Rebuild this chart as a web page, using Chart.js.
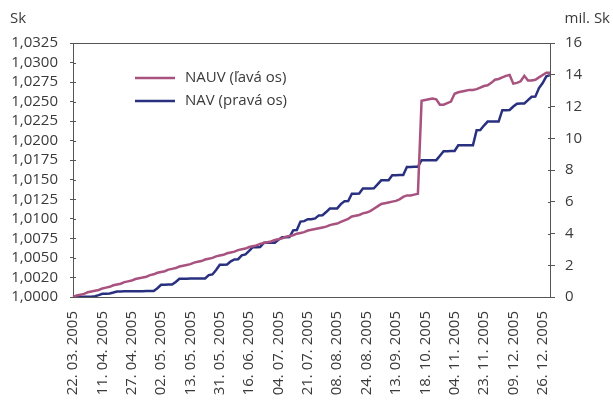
<!DOCTYPE html>
<html lang="sk">
<head>
    <meta charset="UTF-8">
    <title>NAUV a NAV</title>
    <script src="https://cdn.jsdelivr.net/npm/chart.js"></script>
    <style>
        body {
            margin: 0;
            background: #fff;
        }
        .wrap {
            position: relative;
            width: 613px;
            height: 401px;
        }
    </style>
</head>
<body>
    <div class="wrap">
        <canvas id="navChart"></canvas>
    </div>

    <script>
        // tick labels on the date axis (one every 8 points)
        var dateLabels = ['22. 03. 2005', '11. 04. 2005', '27. 04. 2005', '02. 05. 2005', '13. 05. 2005',
            '31. 05. 2005', '16. 06. 2005', '04. 07. 2005', '21. 07. 2005', '08. 08. 2005', '24. 08. 2005',
            '13. 09. 2005', '18. 10. 2005', '04. 11. 2005', '23. 11. 2005', '09. 12. 2005', '26. 12. 2005'];
        var labelEvery = 8;

        // NAUV, left axis (Sk)
        var nauv = [
            1.0000, 1.0002, 1.0003, 1.0004, 1.0006, 1.0007, 1.0008, 1.0009, 1.0011, 1.0012,
            1.0013, 1.0015, 1.0016, 1.0017, 1.0019, 1.0020, 1.0021, 1.0023, 1.0024, 1.0025,
            1.0026, 1.0028, 1.0029, 1.0031, 1.0032, 1.0033, 1.0035, 1.0036, 1.0037, 1.0039,
            1.0040, 1.0041, 1.0042, 1.0044, 1.0045, 1.0046, 1.0048, 1.0049, 1.0050, 1.0052,
            1.0053, 1.0054, 1.0056, 1.0057, 1.0058, 1.0060, 1.0061, 1.0062, 1.0064, 1.0065,
            1.0066, 1.0068, 1.0069, 1.0070, 1.0071, 1.0073, 1.0074, 1.0075, 1.0077, 1.0078,
            1.0079, 1.0081, 1.0082, 1.0083, 1.0085, 1.0086, 1.0087, 1.0088, 1.0089, 1.0090,
            1.0092, 1.0093, 1.0094, 1.0096, 1.0098, 1.0100, 1.0103, 1.0104, 1.0105, 1.0107,
            1.0108, 1.0110, 1.0113, 1.0116, 1.0119, 1.0120, 1.0121, 1.0122, 1.0123, 1.0125,
            1.0128, 1.0130, 1.0130, 1.0131, 1.0132, 1.0251, 1.0252, 1.0253, 1.0254, 1.0253,
            1.0246, 1.0246, 1.0248, 1.0250, 1.0260, 1.0262, 1.0263, 1.0264, 1.0265, 1.0265,
            1.0266, 1.0268, 1.0270, 1.0271, 1.0274, 1.0278, 1.0279, 1.0281, 1.0283, 1.0284,
            1.0273, 1.0274, 1.0276, 1.0283, 1.0277, 1.0277, 1.0278, 1.0281, 1.0284, 1.0287,
            1.0287
        ];

        // NAV, right axis (mil. Sk)
        var nav = [
            0.00, 0.00, 0.00, 0.01, 0.01, 0.02, 0.05, 0.12, 0.20, 0.20,
            0.22, 0.28, 0.35, 0.35, 0.36, 0.36, 0.36, 0.37, 0.37, 0.37,
            0.38, 0.38, 0.38, 0.55, 0.77, 0.77, 0.78, 0.78, 0.95, 1.15,
            1.15, 1.15, 1.16, 1.16, 1.16, 1.17, 1.17, 1.38, 1.42, 1.70,
            2.03, 2.03, 2.05, 2.25, 2.37, 2.38, 2.62, 2.68, 2.90, 3.14,
            3.14, 3.15, 3.41, 3.41, 3.42, 3.42, 3.60, 3.77, 3.77, 3.78,
            4.20, 4.22, 4.75, 4.78, 4.90, 4.90, 4.95, 5.14, 5.15, 5.35,
            5.57, 5.57, 5.58, 5.85, 6.03, 6.04, 6.50, 6.51, 6.52, 6.83,
            6.83, 6.84, 6.85, 7.10, 7.35, 7.35, 7.36, 7.67, 7.67, 7.68,
            7.68, 8.19, 8.19, 8.20, 8.20, 8.62, 8.62, 8.62, 8.62, 8.62,
            8.90, 9.18, 9.18, 9.19, 9.20, 9.56, 9.56, 9.56, 9.56, 9.56,
            10.51, 10.52, 10.80, 11.05, 11.05, 11.05, 11.05, 11.77, 11.77, 11.78,
            12.00, 12.18, 12.19, 12.19, 12.40, 12.61, 12.62, 13.16, 13.48, 13.90,
            13.98
        ];

        var leftMin = 1.0, leftMax = 1.0325, leftStep = 0.0025;
        var rightMin = 0, rightMax = 16, rightStep = 2;

        var pink = '#a8527f';
        var navy = '#28307f';
        var textCol = '#3a3a3a';
        var axisCol = '#555555';
        var fontFam = "'Open Sans', sans-serif";

        // one category per point, a date label every 8th
        var categories = nav.map(function (v, i) {
            return i % labelEvery === 0 ? (dateLabels[i / labelEvery] || '') : '';
        });

        // top border, inner tick marks, axis titles and the legend
        var extras = {
            id: 'extras',
            afterDraw: function (chart) {
                var ctx = chart.ctx;
                var a = chart.chartArea;
                ctx.save();
                ctx.strokeStyle = axisCol;
                ctx.lineWidth = 1;
                ctx.beginPath();
                ctx.moveTo(a.left, a.top + 0.5);
                ctx.lineTo(a.right, a.top + 0.5);
                chart.scales.y.ticks.forEach(function (t) {
                    var y = Math.round(chart.scales.y.getPixelForValue(t.value)) + 0.5;
                    ctx.moveTo(a.left, y);
                    ctx.lineTo(a.left + 3, y);
                });
                chart.scales.y1.ticks.forEach(function (t) {
                    var y = Math.round(chart.scales.y1.getPixelForValue(t.value)) + 0.5;
                    ctx.moveTo(a.right, y);
                    ctx.lineTo(a.right - 2, y);
                });
                ctx.stroke();

                ctx.fillStyle = textCol;
                ctx.font = '15px ' + fontFam;
                ctx.textBaseline = 'middle';
                ctx.textAlign = 'left';
                ctx.fillText('Sk', 10, 19);
                ctx.textAlign = 'right';
                ctx.fillText('mil. Sk', 610, 19);

                // legend
                var items = [['NAUV (ľavá os)', pink], ['NAV (pravá os)', navy]];
                ctx.textAlign = 'left';
                items.forEach(function (it, k) {
                    var y = a.top + 35 + k * 23;
                    ctx.strokeStyle = it[1];
                    ctx.lineWidth = 2.5;
                    ctx.beginPath();
                    ctx.moveTo(a.left + 62, y);
                    ctx.lineTo(a.left + 102, y);
                    ctx.stroke();
                    ctx.fillStyle = textCol;
                    ctx.fillText(it[0], a.left + 112, y);
                });
                ctx.restore();
            }
        };

        var ctx = document.getElementById('navChart').getContext('2d');
        var navChart = new Chart(ctx, {
            type: 'line',
            data: {
                labels: categories,
                datasets: [{
                    label: 'NAUV (ľavá os)',
                    data: nauv,
                    yAxisID: 'y',
                    borderColor: pink,
                    borderWidth: 2.5,
                    pointRadius: 0,
                    tension: 0
                }, {
                    label: 'NAV (pravá os)',
                    data: nav,
                    yAxisID: 'y1',
                    borderColor: navy,
                    borderWidth: 2.5,
                    pointRadius: 0,
                    tension: 0
                }]
            },
            options: {
                responsive: true,
                maintainAspectRatio: false,
                animation: false,
                layout: { padding: { top: 43, left: 0, right: 0, bottom: 0 } },
                plugins: {
                    legend: { display: false },
                    tooltip: { enabled: false }
                },
                scales: {
                    x: {
                        grid: { display: false },
                        border: { display: true, color: axisCol, width: 1 },
                        ticks: {
                            autoSkip: false,
                            minRotation: 90,
                            maxRotation: 90,
                            padding: 6,
                            color: textCol,
                            font: { family: fontFam, size: 15 }
                        },
                        afterFit: function (s) { s.height = 104; }
                    },
                    y: {
                        position: 'left',
                        min: leftMin,
                        max: leftMax,
                        grid: { drawOnChartArea: false, tickLength: 3, color: axisCol },
                        border: { display: true, color: axisCol, width: 1 },
                        ticks: {
                            stepSize: leftStep,
                            autoSkip: false,
                            padding: 12,
                            color: textCol,
                            font: { family: fontFam, size: 15 },
                            callback: function (v) {
                                var s = v.toFixed(4);
                                if (s === '1.0025') s = '1.0020';
                                return s.replace('.', ',');
                            }
                        },
                        afterFit: function (s) { s.width = 73; }
                    },
                    y1: {
                        position: 'right',
                        min: rightMin,
                        max: rightMax,
                        grid: { drawOnChartArea: false, tickLength: 5, color: axisCol },
                        border: { display: true, color: axisCol, width: 1 },
                        ticks: {
                            stepSize: rightStep,
                            autoSkip: false,
                            padding: 10,
                            color: textCol,
                            font: { family: fontFam, size: 15 }
                        },
                        afterFit: function (s) { s.width = 63; }
                    }
                }
            },
            plugins: [extras]
        });
    </script>
</body>
</html>
